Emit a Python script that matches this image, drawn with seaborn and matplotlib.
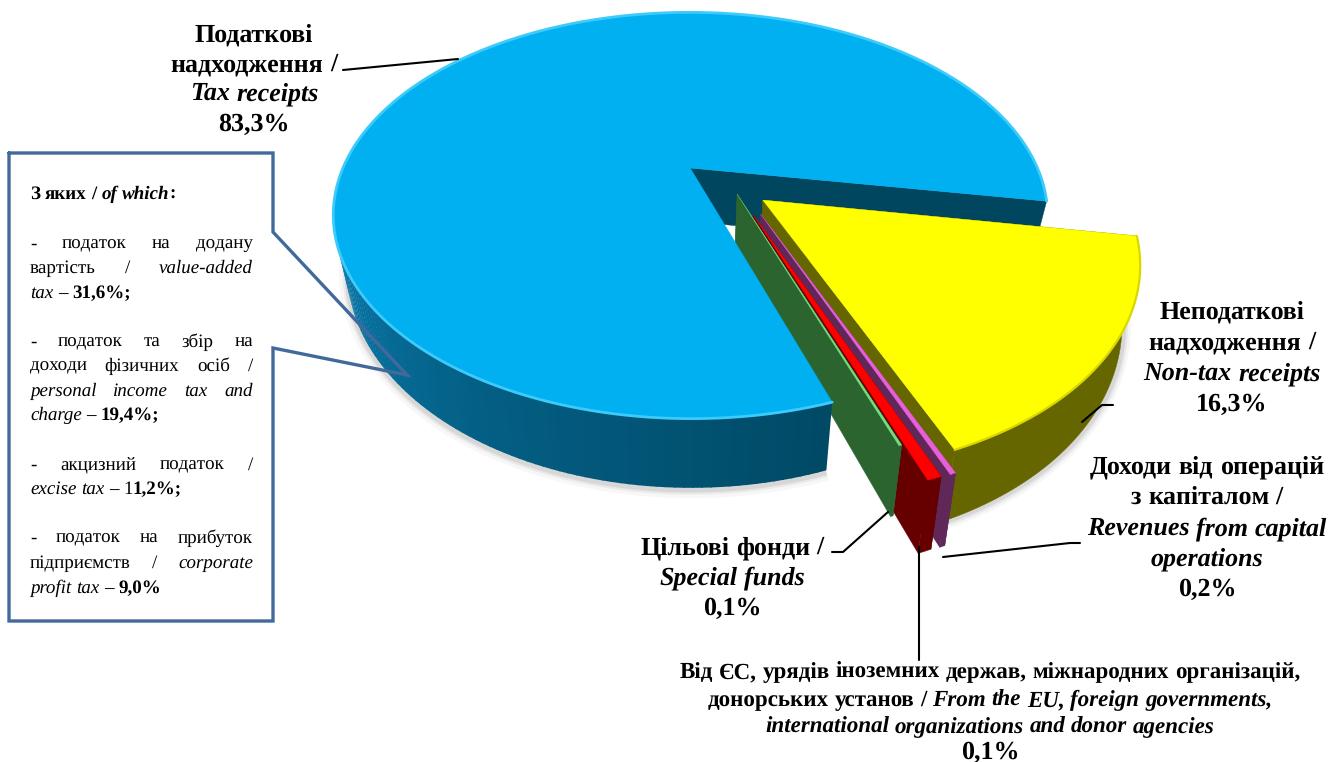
import numpy as np
import matplotlib
matplotlib.use("Agg")
import matplotlib.pyplot as plt
import seaborn as sns

sns.set_theme(style="white")
plt.rcParams['font.family'] = ['Liberation Serif', 'DejaVu Serif']
plt.rcParams['text.hinting'] = 'none'
plt.rcParams['text.hinting_factor'] = 1

# shares as they are drawn in the picture (thin slices are wider than their labels)
slice_names = ["tax", "non_tax", "capital", "eu", "special"]
slice_shares = [82.6, 16.4, 0.2, 0.5, 0.1]
top_colors = ["#00B0F0", "#FFFF00", "#E85FD8", "#FF0000", "#6FE07A"]
side_colors = ["#00465F", "#666600", "#5F2858", "#660000", "#2C6430"]
blue_side_ramp = ["#004A66", "#045F85", "#0A7DB2", "#0C86BE"]

# pie plane -> picture, a simple perspective
CX, CY = 686, 168
A, B, K = 349, 193, 0.235
DEPTH = 53
RADIUS = 0.995
START = 71.6   # clockwise from east, where the tax slice starts

# how far each slice was pulled out of the pie (pie units)
explode = {"tax": (0.012, 0), "special": (0.142, 0.131), "eu": (0.182, 0.23),
           "capital": (0.202, 0.225), "non_tax": (0.212, 0.16)}


def project(x, y):
    w = 1 - K * y
    return CX + A * x / w, CY + B * y / w


def drop(x, y):
    sx, sy = project(x, y)
    return CX + (sx - CX) * 0.96, sy + DEPTH / (1 - K * y)


def arc(name, t1, t2, n=160):
    ex, ey = explode[name]
    t = np.radians(np.linspace(t1, t2, n))
    return ex + RADIUS * np.cos(t), ey + RADIUS * np.sin(t)


# slice angles, going clockwise from the start
angles = np.array(slice_shares) / sum(slice_shares) * 360
ends = START + np.cumsum(angles)
spans = {}
for name, t2, da in zip(slice_names, ends, angles):
    spans[name] = (t2 - da, t2)

fig = plt.figure(figsize=(13.33, 7.62), dpi=100)
ax = fig.add_axes([0, 0, 1, 1])
ax.set_xlim(0, 1333)
ax.set_ylim(762, 0)
ax.axis("off")


def radial_face(name, t, color, z):
    ex, ey = explode[name]
    rx, ry = arc(name, t, t, 2)
    xs, ys = np.array([ex, rx[0]]), np.array([ey, ry[0]])
    p = project(xs, ys)
    q = drop(xs, ys)
    ax.fill(np.r_[p[0], q[0][::-1]], np.r_[p[1], q[1][::-1]], color=color, lw=0.3, zorder=z)


def outer_face(name, color, z):
    t1, t2 = spans[name]
    xs, ys = arc(name, t1, t2)
    p = project(xs, ys)
    q = drop(xs, ys)
    ax.fill(np.r_[p[0], q[0][::-1]], np.r_[p[1], q[1][::-1]], color=color, lw=0.3, zorder=z)


def top_face(name, color, z):
    t1, t2 = spans[name]
    ex, ey = explode[name]
    xs, ys = arc(name, t1, t2, 300)
    p = project(np.r_[ex, xs], np.r_[ey, ys])
    ax.fill(p[0], p[1], color=color, lw=0.3, zorder=z)


# back cut of the tax slice
radial_face("tax", spans["tax"][1], side_colors[0], 1)

# soft shadow under the yellow slice
t1, t2 = spans["non_tax"]
xs, ys = arc("non_tax", t1, t2)
q = drop(xs, ys)
for lw, al in zip([10, 6, 3], [0.05, 0.08, 0.12]):
    ax.plot(q[0] + 2, q[1] + 1, color="#555555", lw=lw, alpha=al, zorder=1.5)

# exploded slices, from back to front
order = ["non_tax", "capital", "eu", "special"]
for i, name in enumerate(order):
    k = slice_names.index(name)
    z = 2 + i
    t1, t2 = spans[name]
    radial_face(name, t1, side_colors[k], z)
    radial_face(name, t2, side_colors[k], z)
    outer_face(name, side_colors[k], z)
    top_face(name, top_colors[k], z + 0.5)

# rim of the yellow slice
xs, ys = arc("non_tax", *spans["non_tax"])
p = project(xs, ys)
ax.plot(p[0], p[1], color="#D8D800", lw=1.6, zorder=2.6)

# the front wall of the tax slice with its shading
t1, t2 = spans["tax"]
ts = np.linspace(t1, min(t2, 215), 120)
ramp = sns.blend_palette(blue_side_ramp, n_colors=len(ts) - 1)
xs, ys = arc("tax", t1, 215, 200)
q = drop(xs, ys)
for lw, al in zip([12, 7, 4], [0.04, 0.07, 0.11]):
    ax.plot(q[0], q[1] + 2, color="#444444", lw=lw, alpha=al, zorder=6, solid_capstyle="butt")
for i in range(len(ts) - 1):
    xs, ys = arc("tax", ts[i], ts[i + 1] + 0.2, 6)
    p = project(xs, ys)
    q = drop(xs, ys)
    ax.fill(np.r_[p[0], q[0][::-1]], np.r_[p[1], q[1][::-1]], color=ramp[i], lw=0, zorder=7)
top_face("tax", top_colors[0], 8)
xs, ys = arc("tax", t1, t2, 400)
p = project(xs, ys)
ax.plot(p[0], p[1], color="#3CCBFA", lw=2.0, zorder=8.5)

# leader lines
leaders = [
    ([343, 458], [70, 59]),
    ([1113, 1102, 1082], [405, 405, 422]),
    ([1080, 1070, 943], [543, 543, 557]),
    ([832, 843, 888], [552, 552, 512]),
    ([919, 919], [547, 660]),
]
for lx, ly in leaders:
    ax.plot(lx, ly, color="black", lw=1.5, zorder=10)

# callout box
box_x = [9, 273, 273, 407, 273, 273, 9, 9]
box_y = [153, 153, 232, 375, 348, 621, 621, 153]
ax.plot(box_x, box_y, color="#41699B", lw=2.4, zorder=10, solid_joinstyle="miter")

renderer = fig.canvas.get_renderer()
B_ = ("bold", "normal")
BI = ("bold", "italic")
R_ = ("normal", "normal")
RI = ("normal", "italic")


def run_width(txt, size, st):
    t = ax.text(0, 0, txt, fontsize=size, fontweight=st[0], fontstyle=st[1])
    w = t.get_window_extent(renderer).width
    t.remove()
    return w


def space_width(size, st):
    return run_width("a a", size, st) - run_width("aa", size, st)


def split_words(runs):
    # (word, style, glued to the word before)
    words = []
    space_before = True
    for txt, st in runs:
        parts = txt.split(" ")
        for j, part in enumerate(parts):
            if j > 0:
                space_before = True
            if part == "":
                continue
            words.append((part, st, not space_before))
            space_before = False
    return words


def put_line(runs, y, size, center=None, left=None, right=None):
    # every word is placed by hand so lines can mix styles or be justified
    words = split_words(runs)
    widths = [run_width(w[0], size, w[1]) for w in words]
    gap = space_width(size, words[0][1])
    n_gaps = sum(1 for w in words[1:] if not w[2])
    total = sum(widths) + gap * n_gaps
    if center is not None:
        x = center - total / 2
    else:
        x = left
        if right is not None and n_gaps > 0:
            gap = (right - left - sum(widths)) / n_gaps
    for (wd, st, glued), w in zip(words, widths):
        if glued:
            x -= gap
        ax.text(x, y, wd, fontsize=size, fontweight=st[0], fontstyle=st[1],
                va="center_baseline", ha="left", color="black", zorder=11)
        x += w + gap


tax_label = [("Податкові", B_), ("надходження /", B_), ("Tax receipts", BI), ("83,3%", B_)]
tax_y = [32, 62, 91, 122]
non_tax_label = [("Неподаткові", B_), ("надходження /", B_), ("Non-tax receipts", BI), ("16,3%", B_)]
non_tax_y = [309, 340, 371, 402]
capital_label = [("Доходи від операцій", B_), ("з капіталом /", B_), ("Revenues from capital", BI),
                 ("operations", BI), ("0,2%", B_)]
capital_y = [464, 495, 526, 556, 587]
special_label = [("Цільові фонди /", B_), ("Special funds", BI), ("0,1%", B_)]
special_y = [545, 575, 606]

for lab, ys_, cx in [(tax_label, tax_y, 254), (non_tax_label, non_tax_y, 1232),
                     (capital_label, capital_y, 1207), (special_label, special_y, 732)]:
    for (txt, st), y in zip(lab, ys_):
        put_line([(txt, st)], y, 18.8, center=cx)

put_line([("Від ЄС, урядів іноземних держав, міжнародних організацій,", B_)], 670, 16.4, center=990)
put_line([("донорських установ / ", B_), ("From the EU, foreign governments,", BI)], 698, 16.4, center=990)
put_line([("international organizations and donor agencies", BI)], 725, 16.4, center=990)
put_line([("0,1%", B_)], 750, 18.8, center=990)

# text inside the box: (runs, y, justified)
box_lines = [
    ([("З яких / ", B_), ("of which", BI), (":", B_)], 192, False),
    ([("- податок на додану", R_)], 242, True),
    ([("вартість / ", R_), ("value-added", RI)], 266, True),
    ([("tax", RI), (" – ", R_), ("31,6%;", B_)], 291, False),
    ([("- податок та збір на", R_)], 340, True),
    ([("доходи фізичних осіб /", R_)], 364, True),
    ([("personal income tax and", RI)], 389, True),
    ([("charge", RI), (" – ", R_), ("19,4%;", B_)], 413, False),
    ([("- акцизний податок /", R_)], 463, True),
    ([("excise tax", RI), (" – 1", R_), ("1,2%;", B_)], 487, False),
    ([("- податок на прибуток", R_)], 536, True),
    ([("підприємств / ", R_), ("corporate", RI)], 561, True),
    ([("profit tax", RI), (" – ", R_), ("9,0%", B_)], 586, False),
]
for runs, y, just in box_lines:
    put_line(runs, y, 14.0, left=30, right=253 if just else None)

fig.savefig("out.png", dpi=100)
